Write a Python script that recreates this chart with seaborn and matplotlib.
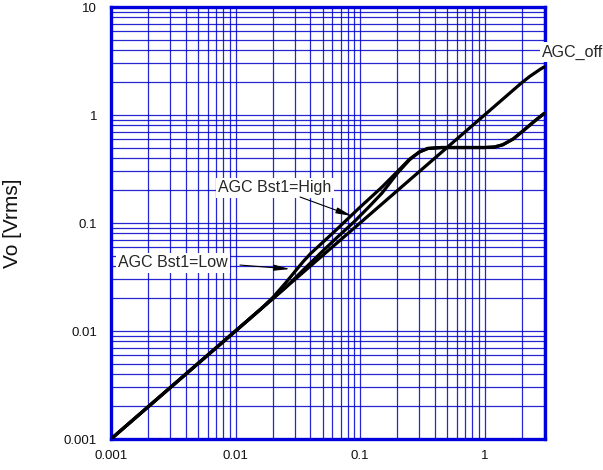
import matplotlib
matplotlib.use("Agg")
import matplotlib.pyplot as plt
import seaborn as sns
import pandas as pd
from matplotlib.ticker import LogLocator, FixedLocator, FixedFormatter, NullFormatter

# ---- data ----
x_off = [0.001, 0.01, 0.1, 1.0, 2.0, 2.3, 2.6, 2.8, 3.0]
y_off = [0.001, 0.01, 0.1, 1.0, 2.0, 2.27, 2.5, 2.65, 2.78]

x_high = [0.001, 0.01, 0.016, 0.02, 0.025, 0.03, 0.035, 0.04, 0.06, 0.1, 0.15, 0.2, 0.25,
          0.3, 0.35, 0.45, 1.0, 1.2, 1.4, 1.7, 2.0, 2.5, 3.0]
y_high = [0.001, 0.01, 0.016, 0.0205, 0.0275, 0.0355, 0.044, 0.052, 0.08, 0.14, 0.215, 0.30, 0.39,
          0.455, 0.49, 0.5, 0.5, 0.505, 0.53, 0.6, 0.7, 0.87, 1.03]

x_low = [0.001, 0.01, 0.025, 0.035, 0.05, 0.065, 0.09, 0.12, 0.15, 0.2, 0.25,
         0.3, 0.35, 0.45, 1.0, 1.2, 1.4, 1.7, 2.0, 2.5, 3.0]
y_low = [0.001, 0.01, 0.025, 0.0367, 0.0548, 0.073, 0.103, 0.144, 0.189, 0.29, 0.385,
         0.455, 0.49, 0.5, 0.5, 0.505, 0.53, 0.6, 0.7, 0.87, 1.03]

x_ticks = [0.001, 0.01, 0.1, 1]
x_tick_labels = ["0.001", "0.01", "0.1", "1"]
y_ticks = [0.001, 0.01, 0.1, 1, 10]
y_tick_labels = ["0.001", "0.01", "0.1", "1", "10"]

y_label = "Vo [Vrms]"
label_off = "AGC_off"
label_high = "AGC Bst1=High"
label_low = "AGC Bst1=Low"

sns.set_theme(style="white")
plt.rcParams['font.family'] = ['Liberation Sans', 'DejaVu Sans']

df = pd.concat([
    pd.DataFrame({"x": x_off, "y": y_off, "s": label_off}),
    pd.DataFrame({"x": x_high, "y": y_high, "s": label_high}),
    pd.DataFrame({"x": x_low, "y": y_low, "s": label_low}),
])

fig = plt.figure(figsize=(6.03, 4.70), dpi=100)
ax = fig.add_axes([111 / 603, 1 - 439 / 470, (545 - 111) / 603, (439 - 7) / 470])

sns.lineplot(data=df, x="x", y="y", units="s", estimator=None, sort=False,
             color="black", linewidth=2.3, ax=ax, legend=False, zorder=3)

ax.set_xscale("log")
ax.set_yscale("log")
ax.set_xlim(0.001, 3.06)
ax.set_ylim(0.001, 10)

ax.xaxis.set_major_locator(FixedLocator(x_ticks))
ax.xaxis.set_major_formatter(FixedFormatter(x_tick_labels))
ax.yaxis.set_major_locator(FixedLocator(y_ticks))
ax.yaxis.set_major_formatter(FixedFormatter(y_tick_labels))
ax.xaxis.set_minor_locator(LogLocator(base=10, subs=range(2, 10), numticks=20))
ax.yaxis.set_minor_locator(LogLocator(base=10, subs=range(2, 10), numticks=20))
ax.xaxis.set_minor_formatter(NullFormatter())
ax.yaxis.set_minor_formatter(NullFormatter())

ax.grid(True, which="both", color="#0000CC", linewidth=0.9, alpha=0.85)
ax.set_axisbelow(True)
ax.tick_params(which="both", length=0)
ax.tick_params(axis="x", pad=8, labelsize=9.5, labelcolor="#111111")
ax.tick_params(axis="y", pad=10, labelsize=9.5, labelcolor="#111111")

for sp in ax.spines.values():
    sp.set_color("#0000DD")
    sp.set_linewidth(2.4)
    sp.set_zorder(2.5)

ax.set_xlabel("")
ax.set_ylabel(y_label, fontsize=15, color="#111111")
ax.yaxis.set_label_coords((22 - 111) / 434, 0.5)

bbox = dict(boxstyle="square,pad=0.15", facecolor="white", edgecolor="none")
ax.text(5.1, 3.83, label_off, fontsize=11.5, ha="center", va="center",
        bbox=bbox, clip_on=False, zorder=5)
ax.text(0.0208, 0.211, label_high, fontsize=11.5, ha="center", va="center",
        bbox=bbox, zorder=5)
ax.text(0.00315, 0.0427, label_low, fontsize=11.5, ha="center", va="center",
        bbox=bbox, zorder=5)

arrow = dict(arrowstyle="-|>,head_length=0.8,head_width=0.15", color="black",
             linewidth=0.8, shrinkA=0, shrinkB=0)
ax.annotate("", xy=(0.0863, 0.116), xytext=(0.033, 0.174), arrowprops=arrow, zorder=6)
ax.annotate("", xy=(0.0274, 0.0375), xytext=(0.01086, 0.0408), arrowprops=arrow, zorder=6)

fig.savefig("out.png", dpi=100)
